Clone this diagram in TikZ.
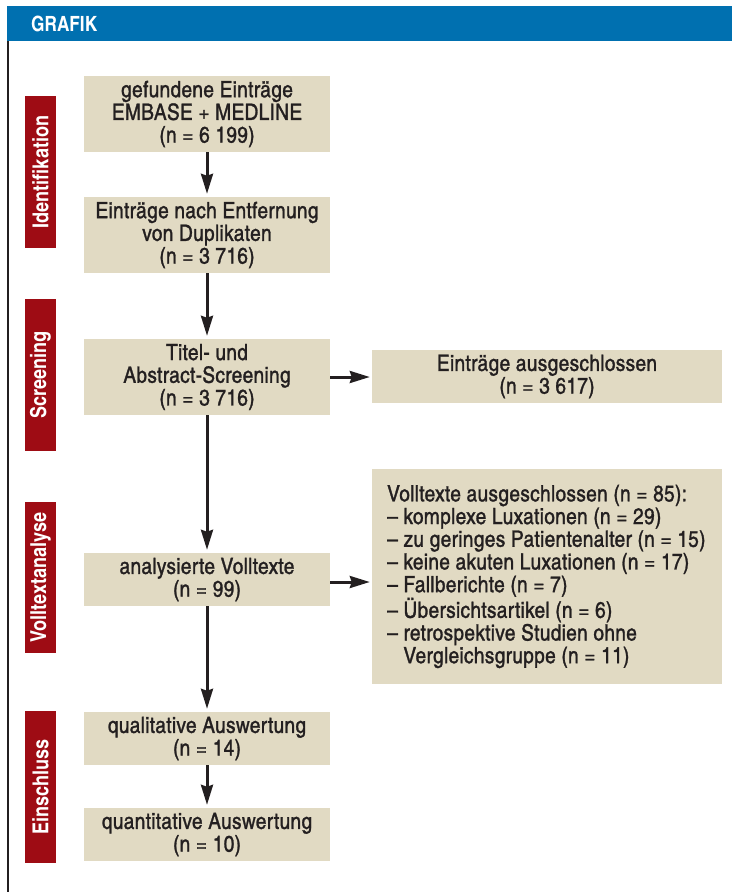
\documentclass[tikz,border=0pt]{standalone}
\usepackage{fontspec}
\setmainfont{texgyreheroscn}[Extension=.otf, UprightFont=*-regular, BoldFont=*-bold, ItalicFont=*-italic, BoldItalicFont=*-bolditalic]
\newfontfamily\medfont{texgyreheroscn}[Extension=.otf, UprightFont=*-regular, FakeBold=1.2, FakeStretch=1.04, LetterSpace=1.2]
\usetikzlibrary{arrows.meta}
\definecolor{boxfill}{RGB}{225,218,195}
\definecolor{phasered}{RGB}{158,12,20}
\definecolor{headblue}{RGB}{0,112,176}
\definecolor{txt}{RGB}{35,31,32}
\tikzset{
  flowtext/.style={text=txt, font=\medfont\fontsize{22.5}{22.7}\selectfont},
  flowbox/.style={fill=boxfill, draw=none, inner sep=0pt, align=center, flowtext,
    minimum width=246pt},
  exclbox/.style={fill=boxfill, draw=none, inner sep=0pt, minimum width=350pt},
  phase/.style={fill=phasered, draw=none, inner sep=0pt, text=white,
    font=\bfseries\fontsize{22}{24}\selectfont, minimum height=31pt, rotate=90},
  flowarrow/.style={draw=txt, line width=3pt,
    -{Stealth[length=20pt, width=12pt, inset=2pt]}, shorten >=3pt},
}
\begin{document}
\begin{tikzpicture}[x=1pt, y=-1pt]
\useasboundingbox (0,0) rectangle (732,892);
% header
\fill[headblue] (7,6) rectangle (732,41);
\node[anchor=base west, text=white, inner sep=0pt, font=\bfseries\fontsize{21}{22}\selectfont] (title) at (31,31) {GRAFIK};
\draw[txt, line width=2pt] (7.8,41) -- (7.8,892);
% phase labels
\node[phase, minimum width=152pt] (p1) at (40.5,172) {Identifikation};
\node[phase, minimum width=152pt] (p2) at (40.5,375) {Screening};
\node[phase, minimum width=151pt] (p3) at (40.5,577.5) {Volltextanalyse};
\node[phase, minimum width=152pt] (p4) at (40.5,787) {Einschluss};
% main flow
\node[flowbox, minimum height=76pt] (b1) at (207,114) {gefundene Einträge\\EMBASE + MEDLINE\\(n = 6~199)};
\node[flowbox, minimum height=76pt] (b2) at (207,235) {Einträge nach Entfernung\\von Duplikaten\\(n = 3~716)};
\node[flowbox, minimum height=76pt] (b3) at (207,377) {Titel- und\\Abstract-Screening\\(n = 3~716)};
\node[flowbox, minimum height=53pt] (b4) at (207,579.5) {analysierte Volltexte\\(n = 99)};
\node[flowbox, minimum height=53pt] (b5) at (207,738.5) {qualitative Auswertung\\(n = 14)};
\node[flowbox, minimum height=53pt] (b6) at (207,834.5) {quantitative Auswertung\\(n = 10)};
% exclusions
\node[exclbox, minimum height=53pt, align=center, flowtext] (e1) at (547,376.5) {Einträge ausgeschlossen\\(n = 3~617)};
\node[exclbox, minimum height=215pt] (e2) at (547,576.5) {};
\node[anchor=west, inner sep=0pt, align=left, flowtext] (e2t) at (387,576.5) {Volltexte ausgeschlossen (n = 85):\\
– komplexe Luxationen (n = 29)\\
– zu geringes Patientenalter (n = 15)\\
– keine akuten Luxationen (n = 17)\\
– Fallberichte (n = 7)\\
– Übersichtsartikel (n = 6)\\
– retrospektive Studien ohne\\
\phantom{– }Vergleichsgruppe (n = 11)};
% arrows
\draw[flowarrow] (b1) -- (b2);
\draw[flowarrow] (b2) -- (b3);
\draw[flowarrow] (b3) -- (b4);
\draw[flowarrow] (b4) -- (b5);
\draw[flowarrow] (b5) -- (b6);
\draw[flowarrow, shorten >=2pt] (b3.east) -- (b3.east -| e1.west);
\draw[flowarrow, shorten >=2pt] ([yshift=-2.5pt]b4.east) -- ([yshift=-2.5pt]b4.east -| e2.west);
\end{tikzpicture}
\end{document}
